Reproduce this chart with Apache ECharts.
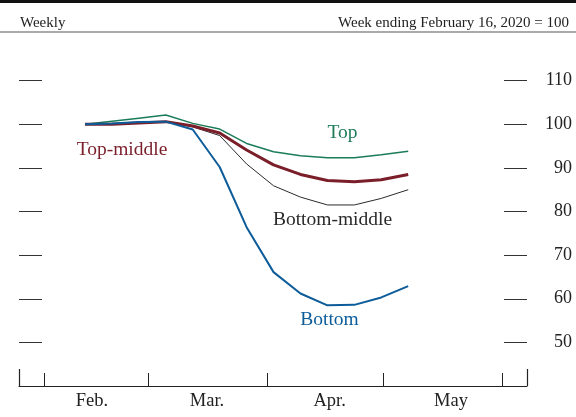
<!DOCTYPE html>
<html>
<head>
<meta charset="utf-8">
<script src="https://cdn.jsdelivr.net/npm/echarts@6/dist/echarts.min.js"></script>
<style>
  html, body { margin: 0; padding: 0; background: #fff; }
  #chart { width: 576px; height: 417px; }
</style>
</head>
<body>
<div id="chart"></div>
<script>
// week index 0 = week ending Feb 16, 2020
var weeks = [0, 1, 2, 3, 4, 5, 6, 7, 8, 9, 10, 11, 12];
var top4 = [100, 100.7, 101.4, 102.1, 100.2, 98.9, 95.6, 93.7, 92.8, 92.3, 92.3, 93.0, 93.8];
var topMiddle = [100, 100.0, 100.3, 100.6, 99.6, 98.0, 94.1, 90.7, 88.5, 87.1, 86.8, 87.3, 88.5];
var bottomMiddle = [100, 100.0, 100.3, 100.6, 99.4, 97.4, 90.9, 85.9, 83.3, 81.5, 81.5, 83.0, 85.0];
var bottom = [100, 100.2, 100.5, 100.6, 98.8, 90.2, 76.4, 66.1, 61.2, 58.5, 58.6, 60.3, 62.9];

// month boundaries and label spots, in week units as drawn
var monthTicks = [-1.52, 2.34, 6.76, 11.06, 15.48];
var monthLabelPos = [0.26, 4.53, 9.08, 13.59];
var months = ["Feb.", "Mar.", "Apr.", "May"];
var yTicks = [50, 60, 70, 80, 90, 100, 110];

var xMin = -2.45, xMax = 16.41;
var serif = "Liberation Serif";

function pairs(vals) {
  return weeks.map(function(w, i) { return [w, vals[i]]; });
}

var chart = echarts.init(document.getElementById("chart"));
var option = {
  backgroundColor: "#fff",
  animation: false,
  grid: { left: 19, right: 49, top: 37, bottom: 31 },
  xAxis: [
    {
      type: "value",
      min: xMin,
      max: xMax,
      splitLine: { show: false },
      axisLine: { onZero: false, lineStyle: { color: "#222", width: 1.2 } },
      axisTick: {
        customValues: monthTicks,
        inside: true,
        length: 13,
        lineStyle: { color: "#222", width: 1 }
      },
      axisLabel: {
        customValues: monthLabelPos,
        margin: 6,
        color: "#222",
        fontFamily: serif,
        fontSize: 18.5,
        formatter: function(v) {
          return months[monthLabelPos.indexOf(v)];
        }
      }
    },
    {
      // tall ticks at both ends of the axis
      type: "value",
      position: "bottom",
      min: xMin,
      max: xMax,
      splitLine: { show: false },
      axisLine: { show: false, onZero: false },
      axisTick: {
        customValues: [xMin, xMax],
        inside: true,
        length: 17,
        lineStyle: { color: "#222", width: 1.2 }
      },
      axisLabel: { show: false }
    }
  ],
  yAxis: [
    {
      type: "value",
      position: "left",
      min: 40,
      max: 120,
      splitLine: { show: false },
      axisLine: { show: false, onZero: false },
      axisTick: {
        customValues: yTicks,
        inside: true,
        length: 23,
        lineStyle: { color: "#333", width: 1 }
      },
      axisLabel: { show: false }
    },
    {
      type: "value",
      position: "right",
      min: 40,
      max: 120,
      splitLine: { show: false },
      axisLine: { show: false, onZero: false },
      axisTick: {
        customValues: yTicks,
        inside: true,
        length: 23,
        lineStyle: { color: "#333", width: 1 }
      },
      axisLabel: {
        customValues: yTicks,
        align: "right",
        margin: 45,
        color: "#222",
        fontFamily: serif,
        fontSize: 18
      }
    }
  ],
  series: [
    {
      name: "Top",
      type: "line",
      data: pairs(top4),
      symbol: "none",
      lineStyle: { color: "#1b7c58", width: 1.5 }
    },
    {
      name: "Bottom-middle",
      type: "line",
      data: pairs(bottomMiddle),
      symbol: "none",
      lineStyle: { color: "#2a2a2a", width: 1 }
    },
    {
      name: "Top-middle",
      type: "line",
      data: pairs(topMiddle),
      symbol: "none",
      lineStyle: { color: "#7a1e2a", width: 3 }
    },
    {
      name: "Bottom",
      type: "line",
      data: pairs(bottom),
      symbol: "none",
      lineStyle: { color: "#0d5c9a", width: 2 }
    }
  ],
  graphic: [
    { type: "rect", left: 0, top: 0, shape: { width: 576, height: 3 }, style: { fill: "#111" } },
    { type: "line", shape: { x1: 0, y1: 32, x2: 576, y2: 32 }, style: { stroke: "#555", lineWidth: 1 } },
    { type: "text", left: 20, top: 16, style: { text: "Weekly", fontFamily: serif, fontSize: 15, fill: "#222" } },
    { type: "text", right: 7, top: 16, style: { text: "Week ending February 16, 2020 = 100", fontFamily: serif, fontSize: 15, fill: "#222", textAlign: "right" } },
    { type: "text", x: 342.5, y: 133, style: { text: "Top", fontFamily: serif, fontSize: 19.5, fill: "#1b7c58", textAlign: "center", textVerticalAlign: "middle" } },
    { type: "text", x: 122, y: 150, style: { text: "Top-middle", fontFamily: serif, fontSize: 19.5, fill: "#7a1e2a", textAlign: "center", textVerticalAlign: "middle" } },
    { type: "text", x: 332.5, y: 220, style: { text: "Bottom-middle", fontFamily: serif, fontSize: 19.5, fill: "#2a2a2a", textAlign: "center", textVerticalAlign: "middle" } },
    { type: "text", x: 329.5, y: 320, style: { text: "Bottom", fontFamily: serif, fontSize: 19.5, fill: "#0d5c9a", textAlign: "center", textVerticalAlign: "middle" } }
  ]
};
chart.setOption(option);
</script>
</body>
</html>
